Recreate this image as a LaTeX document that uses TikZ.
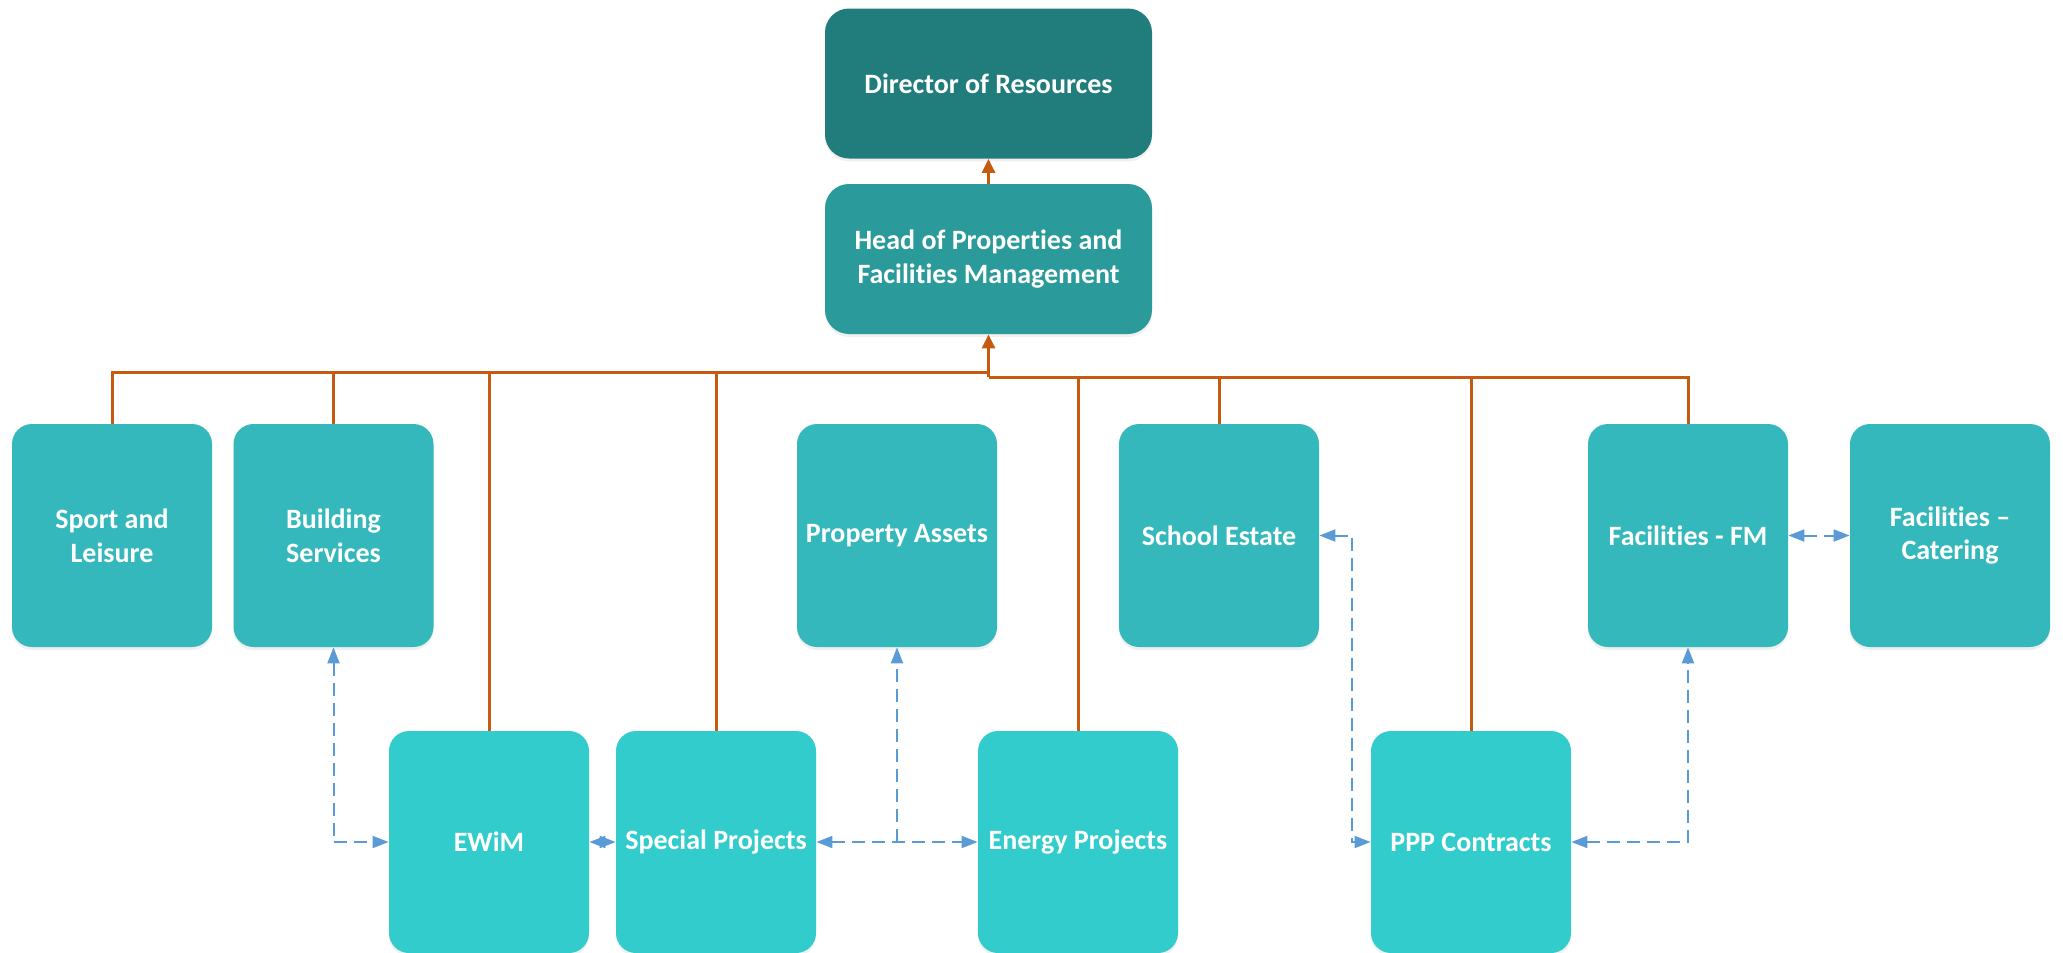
\documentclass[tikz,border=0pt]{standalone}
\usepackage{fontspec}
\setmainfont{Carlito}[Ligatures=NoCommon]
\usetikzlibrary{arrows.meta,shadows}

\definecolor{dirteal}{HTML}{217C7C}
\definecolor{headteal}{HTML}{2A9A9A}
\definecolor{unitteal}{HTML}{35B8BC}
\definecolor{teamteal}{HTML}{33CCCC}
\definecolor{reportline}{HTML}{C55A11}
\definecolor{linkline}{HTML}{5B9BD5}

\begin{document}
\begin{tikzpicture}[x=0.5pt,y=-0.5pt,
  box/.style={rounded corners=10pt, text=white, align=center, inner sep=0pt,
    font=\fontsize{14}{16.8}\selectfont\bfseries,
    drop shadow={shadow xshift=0pt, shadow yshift=-1.5pt, opacity=0.12}},
  exec/.style={box, minimum width=163.5pt, minimum height=75pt, rounded corners=12pt},
  unit/.style={box, fill=unitteal, minimum width=100pt, minimum height=111.5pt},
  team/.style={box, fill=teamteal, minimum width=100pt, minimum height=111pt},
  report/.style={draw=reportline, line width=1.5pt},
  reporttip/.style={report, -{Triangle[length=7pt,width=6.5pt]}},
  linkbase/.style={draw=linkline, line width=1pt, dash pattern=on 6.5pt off 3.5pt},
  link/.style={linkbase, {Triangle[length=8pt,width=6pt]}-{Triangle[length=8pt,width=6pt]}},
  linkone/.style={linkbase, -{Triangle[length=8pt,width=6pt]}},
]
\useasboundingbox (0,0) rectangle (2063,953);

% management
\node[exec, fill=dirteal]  (dir)  at (988.5,83.5) {Director of Resources};
\node[exec, fill=headteal] (head) at (988.5,259)  {Head of Properties and\\Facilities Management};

% upper row of units
\node[unit] (sport)  at (112,535.5)   {Sport and\\Leisure};
\node[unit] (build)  at (333.5,535.5) {Building\\Services};
\node[unit] (prop)   at (897,535.5)   {Property Assets};
\node[unit] (school) at (1219,535.5)  {School Estate};
\node[unit] (fm)     at (1688,535.5)  {Facilities - FM};
\node[unit] (cater)  at (1950,535.5)  {Facilities --\\Catering};

% lower row of teams
\node[team] (ewim)    at (489,842)  {EWiM};
\node[team] (special) at (716,842)  {Special Projects};
\node[team] (energy)  at (1078,842) {Energy Projects};
\node[team] (ppp)     at (1471,842) {PPP Contracts};

% reporting lines
\coordinate (hubL) at (988.5,372);
\coordinate (hubR) at (988.5,377);
\draw[reporttip] (head.north) -- (dir.south);
\draw[reporttip] (hubR) -- (head.south);
\foreach \n in {sport,build,ewim,special}
  \draw[report] (\n.north) |- (hubL);
\foreach \n in {energy,school,ppp,fm}
  \draw[report] (\n.north) |- (hubR);

% working links
\coordinate (spjoin) at (prop.south |- special.east);
\coordinate (sebend) at (1352,700);
\draw[link] (build.south) |- (ewim.west);
\draw[link] (ewim.east) -- (special.west);
\draw[link] (special.east) -- (energy.west);
\draw[linkone] (spjoin) -- (prop.south);
\draw[link] (school.east) -| (sebend) |- (ppp.west);
\draw[link] (ppp.east) -| (fm.south);
\draw[link] (fm.east) -- (cater.west);
\end{tikzpicture}
\end{document}
